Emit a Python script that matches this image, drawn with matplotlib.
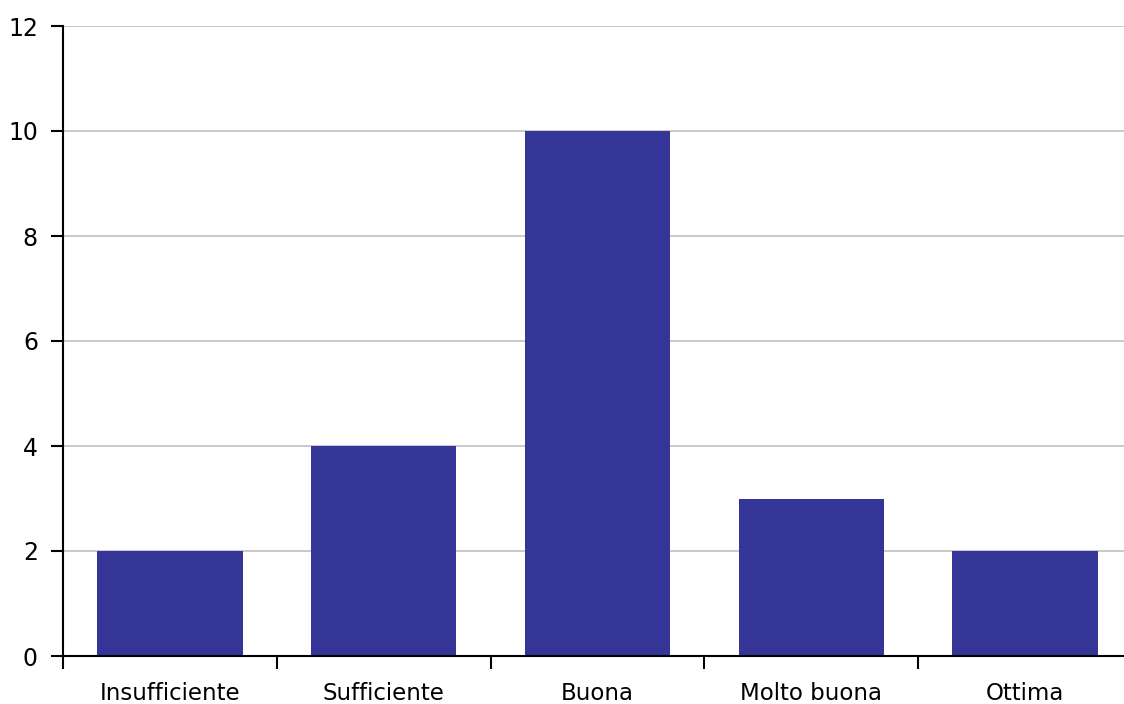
import matplotlib.pyplot as plt

categories = ["Insufficiente", "Sufficiente", "Buona", "Molto buona", "Ottima"]
counts = [2, 4, 10, 3, 2]

fig = plt.figure(figsize=(11.24, 7.04), dpi=100)
W, H = 1124, 704
ax = fig.add_axes([63 / W, (H - 656) / H, 1069 / W, 630 / H])

ax.bar(range(len(categories)), counts, width=0.68, color="#353598", zorder=3)

ax.set_xlim(-0.5, len(categories) - 0.5)
ax.set_ylim(0, 12)
ax.set_yticks(range(0, 13, 2))
ax.yaxis.grid(True, color="#c0c0c0", linewidth=1.2, zorder=0)

# category labels centred, tick marks between categories
ax.set_xticks(range(len(categories)))
ax.set_xticklabels(categories)
ax.tick_params(axis="x", which="major", length=0, pad=19, labelsize=16.5)
ax.set_xticks([i + 0.5 for i in range(-1, len(categories) - 1)], minor=True)
ax.tick_params(axis="x", which="minor", length=9, width=1.5, direction="out")
ax.tick_params(axis="y", length=9, width=1.5, labelsize=17, pad=9)

for s in ["top", "right"]:
    ax.spines[s].set_visible(False)
ax.spines["left"].set_linewidth(1.5)
ax.spines["bottom"].set_linewidth(1.5)
ax.spines["bottom"].set_zorder(4)

fig.savefig("out.png", dpi=100)
